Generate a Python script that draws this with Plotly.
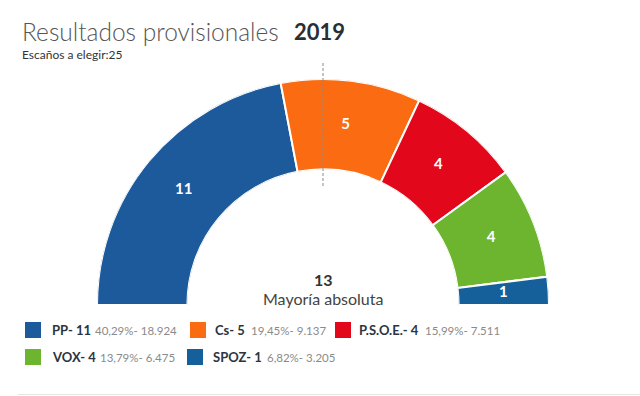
import plotly.graph_objects as go

# ---- data ----
parties = ["PP", "Cs", "P.S.O.E.", "VOX", "SPOZ"]
seats = [11, 5, 4, 4, 1]
pct = [40.29, 19.45, 15.99, 13.79, 6.82]
votes = [18924, 9137, 7511, 6475, 3205]
colors = ["#1d5a9c", "#fb6b11", "#e2071b", "#6db52f", "#15609a"]
total_seats = 25
year = "2019"
title_text = "Resultados provisionales"
majority_label = "Mayoría absoluta"

W, H = 640, 396
FONT = "Lato"


def px(x):
    return x / W


def py(y):
    return 1 - y / H


deg_per_seat = 180 / total_seats
centers, widths = [], []
acc = 0
for s in seats:
    centers.append((acc + s / 2) * deg_per_seat)
    widths.append(s * deg_per_seat)
    acc += s
majority = total_seats // 2 + 1

fig = go.Figure()
fig.add_trace(go.Barpolar(
    theta=centers, r=[1] * len(seats), width=widths, base=0,
    marker=dict(color=colors, line=dict(color="white", width=2)),
    showlegend=False, hoverinfo="skip"))
fig.add_trace(go.Scatterpolar(
    theta=centers, r=[0.5] * len(seats), mode="text",
    text=[f"<b>{s}</b>" for s in seats],
    textfont=dict(family=FONT, size=15, color="white"),
    showlegend=False, hoverinfo="skip"))

cx = 323
dom_x = [97 / W, 549 / W]
dom_y = [91 / H, 317 / H]

annotations = [
    dict(x=px(20), y=py(31), xref="paper", yref="paper", xanchor="left", yanchor="middle",
         text=title_text, showarrow=False,
         font=dict(family=FONT, size=24.5, color="#555555", weight=300)),
    dict(x=px(292), y=py(31), xref="paper", yref="paper", xanchor="left", yanchor="middle",
         text=f"<b>{year}</b>", showarrow=False,
         font=dict(family=FONT, size=22, color="#2a2f36")),
    dict(x=px(20), y=py(55), xref="paper", yref="paper", xanchor="left", yanchor="middle",
         text=f"Escaños a elegir:{total_seats}", showarrow=False,
         font=dict(family=FONT, size=12, color="#333333")),
    dict(x=px(cx), y=py(279), xref="paper", yref="paper", xanchor="center", yanchor="middle",
         text=f"<b>{majority}</b>", showarrow=False,
         font=dict(family=FONT, size=16, color="#333333")),
    dict(x=px(cx), y=py(298), xref="paper", yref="paper", xanchor="center", yanchor="middle",
         text=majority_label, showarrow=False,
         font=dict(family=FONT, size=16, color="#444444")),
]

shapes = [
    dict(type="line", xref="paper", yref="paper", x0=px(cx), x1=px(cx), y0=py(63), y1=py(188),
         line=dict(color="#8a8a8a", width=1, dash="3px,2px")),
    dict(type="line", xref="paper", yref="paper", x0=px(18), x1=px(640), y0=py(394.5), y1=py(394.5),
         line=dict(color="#e6e6e6", width=1)),
]

# legend layout (positions of entries)
leg_sq_x = [25, 190, 335, 25, 187]
leg_txt_x = [50, 213, 357, 50, 211]
leg_stat_x = [93, 249, 423, 98, 265]
leg_row_y = [330, 357]
leg_row = [0, 0, 0, 1, 1]


def fmt_pct(v):
    return f"{v:.2f}".replace(".", ",") + "%"


def fmt_votes(v):
    return f"{v:,}".replace(",", ".")


for i, p in enumerate(parties):
    yc = leg_row_y[leg_row[i]]
    shapes.append(dict(type="rect", xref="paper", yref="paper",
                       x0=px(leg_sq_x[i]), x1=px(leg_sq_x[i] + 16),
                       y0=py(yc - 8), y1=py(yc + 8),
                       fillcolor=colors[i], line=dict(width=0)))
    annotations.append(dict(
        x=px(leg_txt_x[i]), y=py(yc), xref="paper", yref="paper",
        xanchor="left", yanchor="middle", showarrow=False,
        text=f"<b>{p}- {seats[i]}</b>",
        font=dict(family=FONT, size=13, color="#2b3440")))
    annotations.append(dict(
        x=px(leg_stat_x[i]), y=py(yc + 0.5), xref="paper", yref="paper",
        xanchor="left", yanchor="middle", showarrow=False,
        text=f"{fmt_pct(pct[i])}- {fmt_votes(votes[i])}",
        font=dict(family=FONT, size=11.5, color="#8a8a8a")))

fig.update_layout(
    width=W, height=H, margin=dict(l=0, r=0, t=0, b=0),
    paper_bgcolor="white", plot_bgcolor="white",
    polar=dict(domain=dict(x=dom_x, y=dom_y), sector=[0, 180], hole=0.6,
               bgcolor="rgba(0,0,0,0)",
               angularaxis=dict(direction="clockwise", rotation=180, visible=False),
               radialaxis=dict(range=[0, 1], visible=False)),
    annotations=annotations, shapes=shapes, showlegend=False,
)

fig.write_html("out.html", config={"displayModeBar": False},
               post_script="document.body.style.margin='0px';document.body.style.overflow='hidden';")
